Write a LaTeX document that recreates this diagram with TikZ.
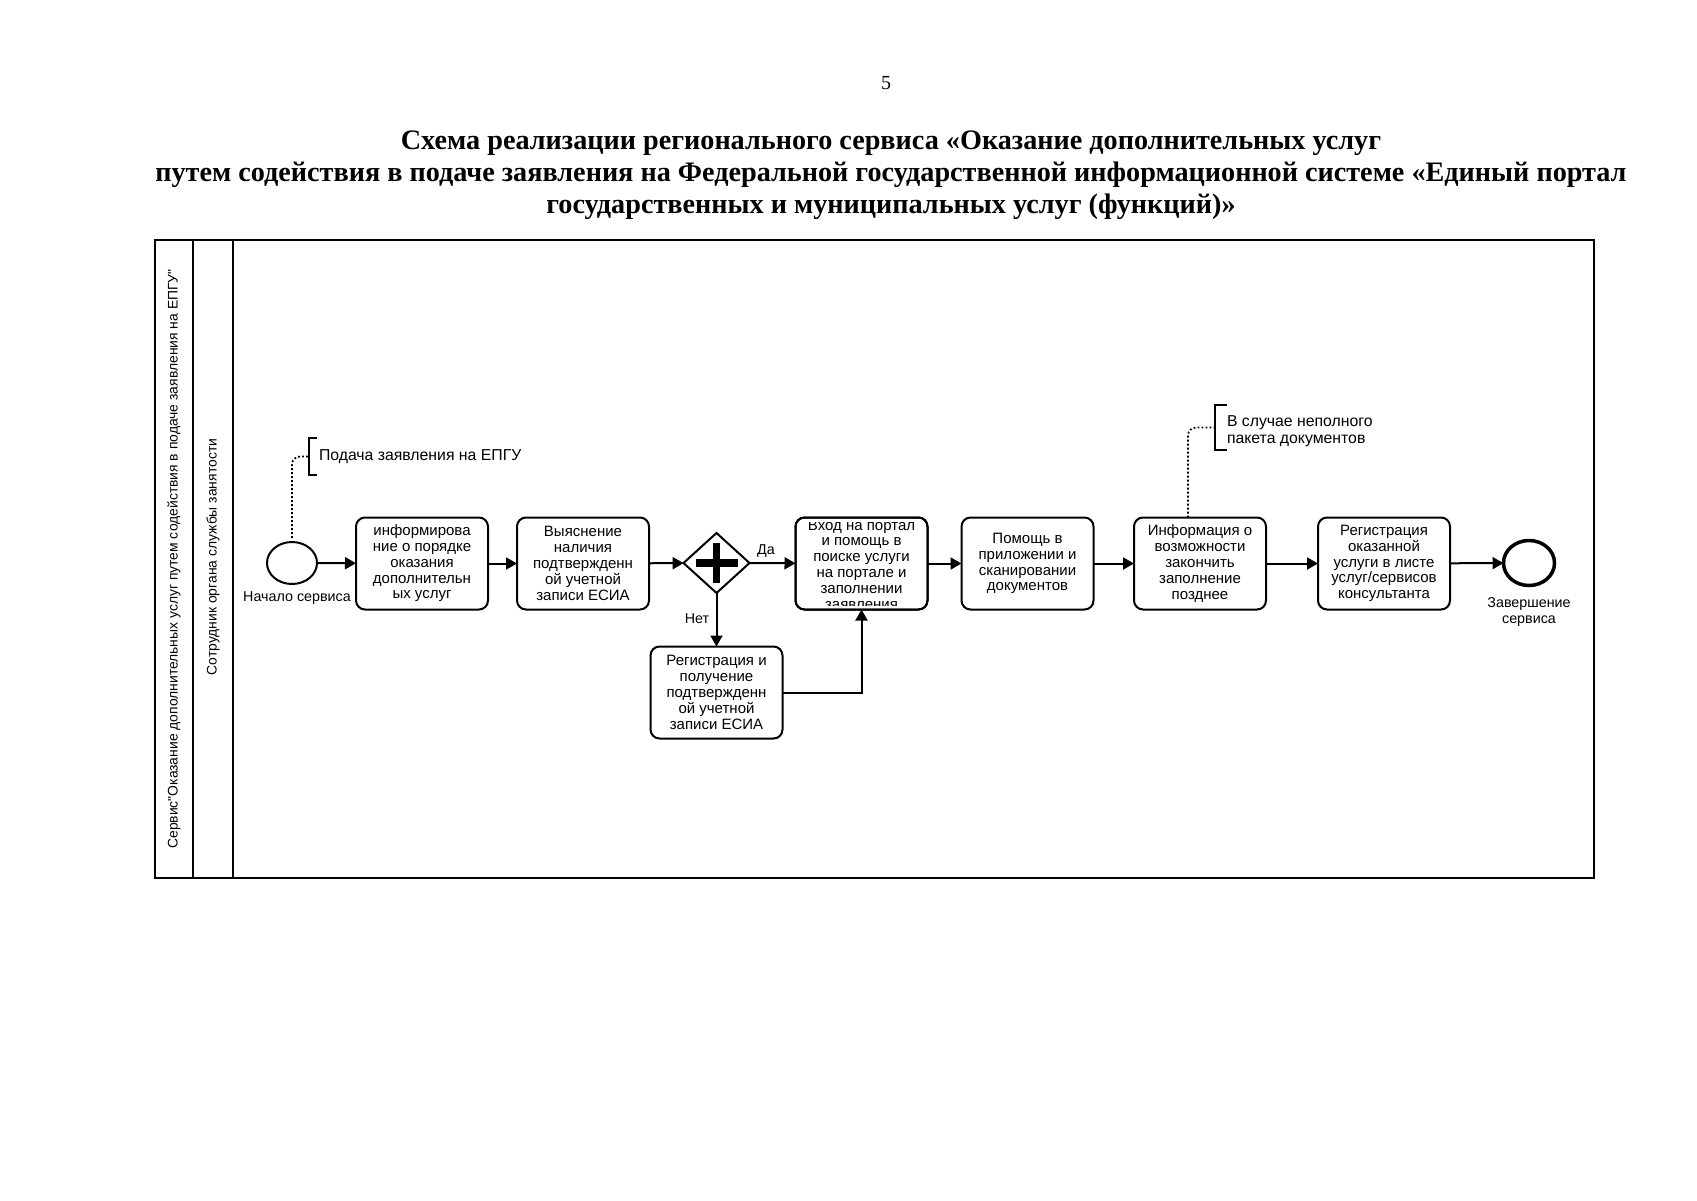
\documentclass[tikz,border=0pt]{standalone}
\usepackage{fontspec}
\setmainfont{Liberation Serif}
\newfontfamily\sansf{Liberation Sans}
\usetikzlibrary{arrows.meta,shapes.geometric,calc}
\begin{document}
\begin{tikzpicture}[x=1pt,y=-1pt,
  every node/.style={inner sep=0pt, outer sep=0pt},
  taskbox/.style={draw, line width=2pt, rounded corners=9pt, minimum width=132pt, minimum height=92pt},
  tasktext/.style={align=center, font=\sansf\fontsize{15}{15.8}\selectfont},
  flow/.style={line width=2pt, -{Triangle[length=11pt,width=12pt]}},
  note/.style={line width=1.8pt, dash pattern=on 1.8pt off 2.2pt, rounded corners=8pt},
  bracket/.style={line width=1.8pt},
  lbl/.style={font=\sansf\fontsize{14.3}{15.5}\selectfont},
  lanelbl/.style={font=\sansf\fontsize{13.9}{15}\selectfont},
  notetext/.style={font=\sansf\fontsize{15.8}{16.5}\selectfont},
  lane/.style={line width=2.5pt},
]
\useasboundingbox (0,0) rectangle (1697,1200);
\fill[white] (0,0) rectangle (1697,1200);

% page number and title
\node (pnum) at (886,83) {\fontsize{20}{24}\selectfont 5};
\node[align=center, font=\bfseries\fontsize{28.2}{32}\selectfont] (title) at (891,175)
 {Схема реализации регионального сервиса «Оказание дополнительных услуг\\
  путем содействия в подаче заявления на Федеральной государственной информационной системе «Единый портал\\
  государственных и муниципальных услуг (функций)»};

% pool frame
\draw[lane] (155,240) rectangle (1594,878);
\draw[lane] (193,240) -- (193,878);
\draw[lane] (233,240) -- (233,878);
\node[rotate=90, lanelbl] (pool) at (174,559) {Сервис"Оказание дополнительных услуг путем содействия в подаче заявления на ЕПГУ"};
\node[rotate=90, lanelbl] (lane2) at (213,557) {Сотрудник органа службы занятости};

% events
\node[draw, ellipse, line width=2pt, minimum width=50pt, minimum height=42pt] (start) at (292,563) {};
\node[lbl, anchor=north] (startlbl) at (297,592) {Начало сервиса};
\node[draw, ellipse, line width=3.5pt, minimum width=51pt, minimum height=45pt] (end) at (1529,563) {};
\node[lbl, align=center, anchor=north] (endlbl) at (1529,598) {Завершение\\сервиса};

% tasks
\node[taskbox, tasktext] (t1) at (422,563.5) {информирова\\ние о порядке\\оказания\\дополнительн\\ых услуг};
\node[taskbox, tasktext] (t2) at (583,563.5) {Выяснение\\наличия\\подтвержденн\\ой учетной\\записи ЕСИА};
\node[taskbox] (t3) at (861.5,563.5) {};
\begin{scope}
  \clip[rounded corners=6pt] ($(t3.south west)+(4,-4)$) rectangle ($(t3.north east)+(-4,4)$);
  \node[tasktext] (t3text) at (861.5,564.5) {Вход на портал\\и помощь в\\поиске услуги\\на портале и\\заполнении\\заявления};
\end{scope}
\draw[line width=2pt, rounded corners=9pt] (t3.south west) rectangle (t3.north east);
\node[taskbox, tasktext] (t4) at (1027.5,563.5) {Помощь в\\приложении и\\сканировании\\документов};
\node[taskbox, tasktext] (t6) at (1200,563.5) {Информация о\\возможности\\закончить\\заполнение\\позднее};
\node[taskbox, tasktext] (t7) at (1384,563.5) {Регистрация\\оказанной\\услуги в листе\\услуг/сервисов\\консультанта};
\node[taskbox, tasktext] (t5) at (716.5,692.5) {Регистрация и\\получение\\подтвержденн\\ой учетной\\записи ЕСИА};

% gateway
\node[draw, diamond, line width=2pt, minimum width=66pt, minimum height=60pt] (g) at (716.5,563) {};
\fill ($(g)+(-21,-3.8)$) rectangle ($(g)+(21,3.8)$);
\fill ($(g)+(-3.8,-20)$) rectangle ($(g)+(3.8,20)$);

% flows
\draw[flow] (start) -- (t1);
\draw[flow] (t1) -- (t2);
\draw[flow] (t2) -- (g);
\draw[flow] (g) -- (t3);
\node[lbl] (da) at (766,551) {Да};
\draw[flow] (g.south) -- (t5.north);
\node[lbl] (net) at (697,619) {Нет};
\draw[flow] (t5.east) -| (t3.south);
\draw[flow] (t3) -- (t4);
\draw[flow] (t4) -- (t6);
\draw[flow] (t6) -- (t7);
\draw[flow] (t7) -- (end);

% annotations
\coordinate (a1) at (309,456.5);
\draw[bracket] (317,438) -- (309,438) -- (309,475) -- (317,475);
\node[notetext, anchor=west] (a1text) at (319,456.5) {Подача заявления на ЕПГУ};
\draw[note, shorten <=4pt] (start.north) |- (a1);

\coordinate (a2) at (1215,427.5);
\draw[bracket] (1227,405) -- (1215,405) -- (1215,450) -- (1227,450);
\node[notetext, anchor=west, align=left] (a2text) at (1227,431) {В случае неполного\\пакета документов};
\draw[note] ($(t6.north)+(-12,0)$) |- (a2);
\end{tikzpicture}
\end{document}
